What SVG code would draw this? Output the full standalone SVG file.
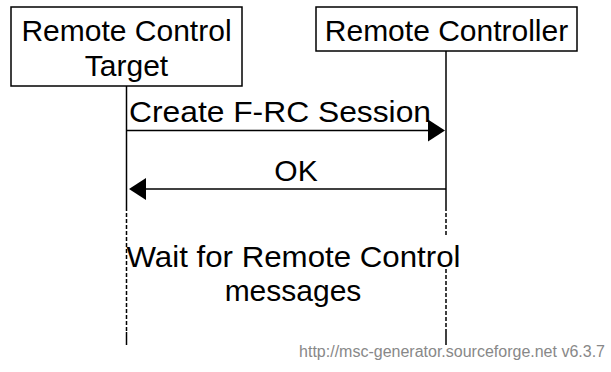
<svg xmlns="http://www.w3.org/2000/svg" width="611" height="372" viewBox="0 0 611 372">
<style>
.box{fill:#fff;stroke:#000;stroke-width:1.5}
.t{font-family:"Liberation Sans",Arial,sans-serif;font-size:30px;fill:#000;text-anchor:middle}
.ln{stroke:#000;stroke-width:1.5;fill:none}
.dash{stroke:#000;stroke-width:1.5;fill:none;stroke-dasharray:4,2}
.foot{font-family:"Liberation Sans",Arial,sans-serif;font-size:16px;fill:#888;text-anchor:end}
</style>
<g id="connectors">
<line class="ln" x1="126.5" y1="86" x2="126.5" y2="207"/>
<line class="dash" x1="126.5" y1="207" x2="126.5" y2="332"/>
<line class="ln" x1="126.5" y1="332" x2="126.5" y2="345"/>
<line class="ln" x1="446" y1="51" x2="446" y2="207"/>
<line class="dash" x1="446" y1="207" x2="446" y2="236"/>
<line class="dash" x1="446" y1="269" x2="446" y2="332"/>
<line class="ln" x1="446" y1="332" x2="446" y2="345"/>
<line class="ln" x1="126.5" y1="130.5" x2="430" y2="130.5"/>
<polygon points="445,130.5 428,119.5 428,141.5" fill="#000"/>
<line class="ln" x1="144" y1="189" x2="446" y2="189"/>
<polygon points="129,189 146,178 146,200" fill="#000"/>
</g>
<g id="target">
<rect class="box" x="11" y="7" width="231" height="79"/>
<text class="t" x="126.5" y="41">Remote Control</text>
<text class="t" x="126.5" y="76">Target</text>
</g>
<g id="controller">
<rect class="box" x="316" y="7" width="261" height="44"/>
<text class="t" x="446.5" y="41">Remote Controller</text>
</g>
<g id="labels">
<text class="t" x="280" y="122" textLength="302" lengthAdjust="spacingAndGlyphs">Create F-RC Session</text>
<text class="t" x="296" y="181">OK</text>
<text class="t" x="293.5" y="267" textLength="334" lengthAdjust="spacingAndGlyphs">Wait for Remote Control</text>
<text class="t" x="293" y="301">messages</text>
<text class="foot" x="605" y="357">http://msc-generator.sourceforge.net v6.3.7</text>
</g>
</svg>
